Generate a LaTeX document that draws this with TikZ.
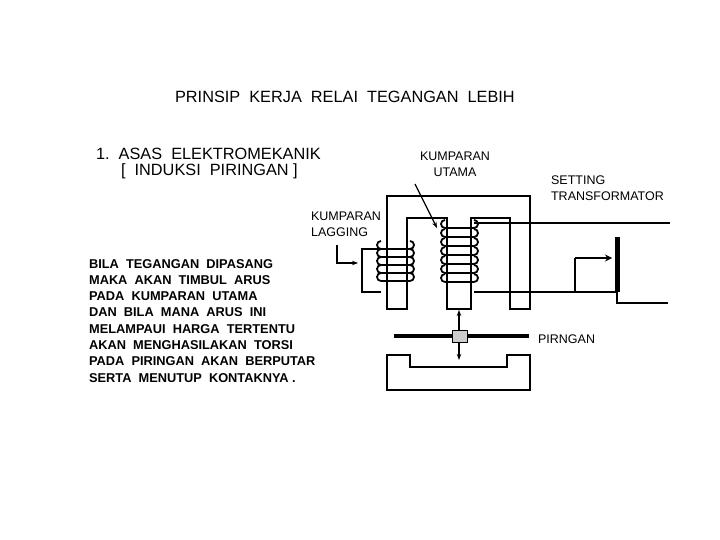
\documentclass[tikz,border=0pt]{standalone}
\usepackage{fontspec}
\setmainfont{Liberation Sans}
\usetikzlibrary{arrows.meta}
\begin{document}
\begin{tikzpicture}[x=1pt,y=-1pt,line width=2.2pt,line join=miter,
  lbl/.style={inner sep=0pt,font=\fontsize{16.3}{18}\selectfont},
  sm/.style={inner sep=0pt,font=\fontsize{12.8}{16.3}\selectfont\bfseries,align=left},
  ss/.style={inner sep=0pt,font=\fontsize{12.5}{16}\selectfont,align=left},
  loop/.style={line width=1.8pt}]
\useasboundingbox[fill=white] (0,0) rectangle (720,540);
% texts
\node[lbl,anchor=west] (title) at (174,97) {PRINSIP\ \ KERJA\ \ RELAI\ \ TEGANGAN\ \ LEBIH};
\node[lbl,anchor=west] (h1) at (95,154) {1.\ \ ASAS\ \ ELEKTROMEKANIK};
\node[lbl,anchor=west] (h2) at (120,171) {[\ \ INDUKSI\ \ PIRINGAN ]};
\node[ss,align=center] (ku) at (455,164) {KUMPARAN\\UTAMA};
\node[ss,anchor=west] (st) at (550,188) {SETTING\\TRANSFORMATOR};
\node[ss,anchor=west] (kl) at (310,224) {KUMPARAN\\LAGGING};
\node[ss,anchor=west] (pr) at (537,339) {PIRNGAN};
\node[sm,anchor=north west] (txt) at (88,258) {BILA\ \ TEGANGAN\ \ DIPASANG\\MAKA\ \ AKAN\ \ TIMBUL\ \ ARUS\\PADA\ \ KUMPARAN\ \ UTAMA\\DAN\ \ BILA\ \ MANA\ \ ARUS\ \ INI\\MELAMPAUI\ \ HARGA\ \ TERTENTU\\AKAN\ \ MENGHASILAKAN\ \ TORSI\\PADA\ \ PIRINGAN\ \ AKAN\ \ BERPUTAR\\SERTA\ \ MENUTUP\ \ KONTAKNYA .};
% upper core
\draw (387,196) -- (530,196) -- (530,309) -- (510,309) -- (510,218) -- (471,218) -- (471,309) -- (447,309) -- (447,218) -- (407,218) -- (407,309) -- (387,309) -- cycle;
% lagging coil
\draw (381,249) -- (362,249) -- (362,292) -- (381,292);
\foreach \y in {253,261,269,277,285}{
  \draw[loop] (381,\y-4) arc (90:270:4) (410,\y-4) arc (90:-90:4);
  \draw[loop] (381,\y-4) -- (410,\y-4);
}
% main coil
\foreach \y in {232,241,250,259,268,277,286}{
  \draw[loop] (445,\y-4) arc (90:270:4) (474,\y-4) arc (90:-90:4);
  \draw[loop] (445,\y-4) -- (474,\y-4);
}
\coordinate (w1) at (670,223);
\coordinate (w2) at (668,303);
\coordinate (tap) at (575,258);
\draw (474,223) -- (w1);
\draw (474,292) -- (617,292);
\draw (575,292) -- (tap);
\draw[line width=5pt] (617,237) -- (617,292) coordinate (bar);
\draw (617,292) -- (617,303) -- (w2);
\draw[-{Stealth[length=7pt,width=7pt]}] (tap) -- (612,258);
% disc
\draw[line width=4.5pt] (394,336) -- (529,336);
\draw[line width=0.8pt,fill=gray!40] (452,330) rectangle (467,342);
\draw[line width=1.5pt,-{Stealth[length=6pt]}] (459,330) -- (459,310);
\draw[line width=1.5pt,-{Stealth[length=6pt]}] (459,342) -- (459,360);
% lower magnet
\draw (387,355) -- (410,355) -- (410,367) -- (507,367) -- (507,355) -- (530,355) -- (530,390) -- (387,390) -- cycle;
% label arrows
\coordinate (ka) at (415,184);
\draw[line width=1.3pt,-{Stealth[length=6pt]}] (ka) -- (437,228);
\coordinate (la) at (337,245);
\draw[line width=1.3pt,-{Stealth[length=6pt]}] (la) -- (337,263) -- (358,263);
\end{tikzpicture}
\end{document}
